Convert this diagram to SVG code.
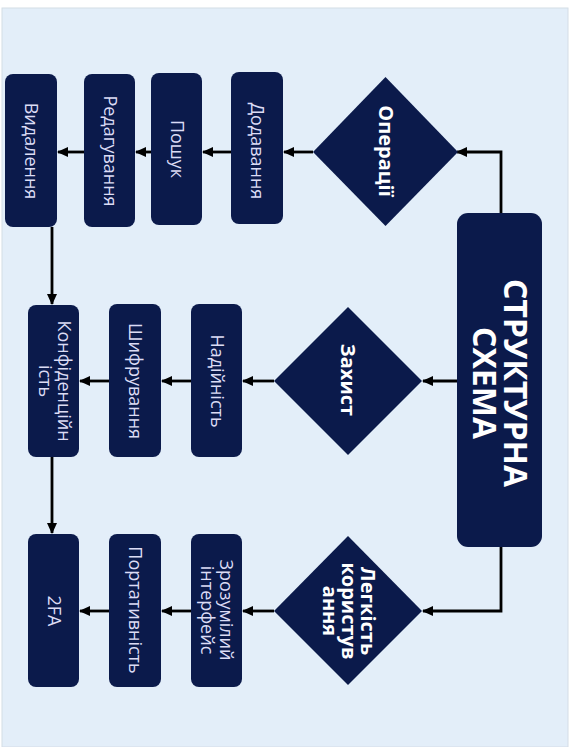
<svg xmlns="http://www.w3.org/2000/svg" width="571" height="747" viewBox="0 0 571 747">
<style>
.box{fill:#0b1a4b}
.lbl{font-family:"Open Sans","Noto Sans",sans-serif;font-size:18px;fill:#dcdcf5;text-anchor:middle}
.dlbl{font-family:"Open Sans","Noto Sans",sans-serif;font-size:20px;font-weight:bold;fill:#ffffff;text-anchor:middle}
.title{font-family:"Open Sans","Noto Sans",sans-serif;font-size:32px;font-weight:bold;fill:#ffffff;text-anchor:middle}
.con{fill:none;stroke:#000;stroke-width:2.8}
</style>
<defs>
<marker id="ah" markerUnits="userSpaceOnUse" markerWidth="11" markerHeight="11" refX="10" refY="5.5" orient="auto">
<path d="M0,0.5 L11,5.5 L0,10.5 z" fill="#000"/>
</marker>
</defs>
<rect x="0" y="0" width="571" height="747" fill="#ffffff"/>
<rect x="2" y="8" width="566" height="739" fill="#e3eef9" stroke="#d4dde6" stroke-width="1"/>

<g id="connectors">
<path class="con" d="M501,213 V152 H457" marker-end="url(#ah)"/>
<path class="con" d="M313,152 H284" marker-end="url(#ah)"/>
<path class="con" d="M231,152 H203" marker-end="url(#ah)"/>
<path class="con" d="M151,152 H136" marker-end="url(#ah)"/>
<path class="con" d="M84,152 H58" marker-end="url(#ah)"/>
<path class="con" d="M52,227 V304" marker-end="url(#ah)"/>
<path class="con" d="M457,381 H423" marker-end="url(#ah)"/>
<path class="con" d="M274,381 H243" marker-end="url(#ah)"/>
<path class="con" d="M191,381 H162" marker-end="url(#ah)"/>
<path class="con" d="M109,381 H80" marker-end="url(#ah)"/>
<path class="con" d="M52,457 V533" marker-end="url(#ah)"/>
<path class="con" d="M501,547 V611 H423" marker-end="url(#ah)"/>
<path class="con" d="M274,611 H243" marker-end="url(#ah)"/>
<path class="con" d="M191,611 H162" marker-end="url(#ah)"/>
<path class="con" d="M109,611 H80" marker-end="url(#ah)"/>
</g>

<g id="main">
<rect class="box" x="457" y="213" width="85" height="334" rx="11"/>
<text class="title" transform="translate(499.5,383) rotate(90)"><tspan x="0" y="-4.5">СТРУКТУРНА</tspan><tspan x="0" y="26.5">СХЕМА</tspan></text>
</g>

<g id="operations">
<polygon class="box" points="385.5,77 458,152 385.5,226 313,152"/>
<text class="dlbl" transform="translate(385.5,151) rotate(90)" y="7">Операції</text>
</g>
<g id="add">
<rect class="box" x="231" y="72" width="52" height="152" rx="8"/>
<text class="lbl" transform="translate(257,151) rotate(90)" y="6">Додавання</text>
</g>
<g id="search">
<rect class="box" x="151" y="73" width="51" height="152" rx="8"/>
<text class="lbl" transform="translate(176.5,149) rotate(90)" y="6">Пошук</text>
</g>
<g id="edit">
<rect class="box" x="84" y="74" width="51" height="153" rx="8"/>
<text class="lbl" transform="translate(109.5,151) rotate(90)" y="6">Редагування</text>
</g>
<g id="delete">
<rect class="box" x="5" y="74" width="52" height="153" rx="8"/>
<text class="lbl" transform="translate(31,151) rotate(90)" y="6">Видалення</text>
</g>

<g id="protection">
<polygon class="box" points="348,307 422,381 348,455 274,381"/>
<text class="dlbl" transform="translate(348,380) rotate(90)" y="7">Захист</text>
</g>
<g id="reliability">
<rect class="box" x="191" y="304" width="51" height="153" rx="8"/>
<text class="lbl" transform="translate(216.5,381) rotate(90)" y="6">Надійність</text>
</g>
<g id="encryption">
<rect class="box" x="109" y="304" width="52" height="153" rx="8"/>
<text class="lbl" transform="translate(135,381) rotate(90)" y="6">Шифрування</text>
</g>
<g id="privacy">
<rect class="box" x="28" y="305" width="51" height="152" rx="8"/>
<text class="lbl" transform="translate(53.5,381) rotate(90)"><tspan x="0" y="-4">Конфіденційн</tspan><tspan x="0" y="15">ість</tspan></text>
</g>

<g id="usability">
<polygon class="box" points="348,536 422,611 348,685 274,611"/>
<text class="dlbl" transform="translate(349,611) rotate(90)"><tspan x="0" y="-12">Легкість</tspan><tspan x="0" y="7">користув</tspan><tspan x="0" y="26">ання</tspan></text>
</g>
<g id="interface">
<rect class="box" x="191" y="534" width="51" height="153" rx="8"/>
<text class="lbl" transform="translate(216.5,610) rotate(90)"><tspan x="0" y="-3">Зрозумілий</tspan><tspan x="0" y="16">інтерфейс</tspan></text>
</g>
<g id="portability">
<rect class="box" x="109" y="534" width="52" height="153" rx="8"/>
<text class="lbl" transform="translate(135,610) rotate(90)" y="6">Портативність</text>
</g>
<g id="twofa">
<rect class="box" x="28" y="534" width="51" height="153" rx="8"/>
<text class="lbl" transform="translate(53.5,611) rotate(90)" y="6">2FA</text>
</g>
</svg>
